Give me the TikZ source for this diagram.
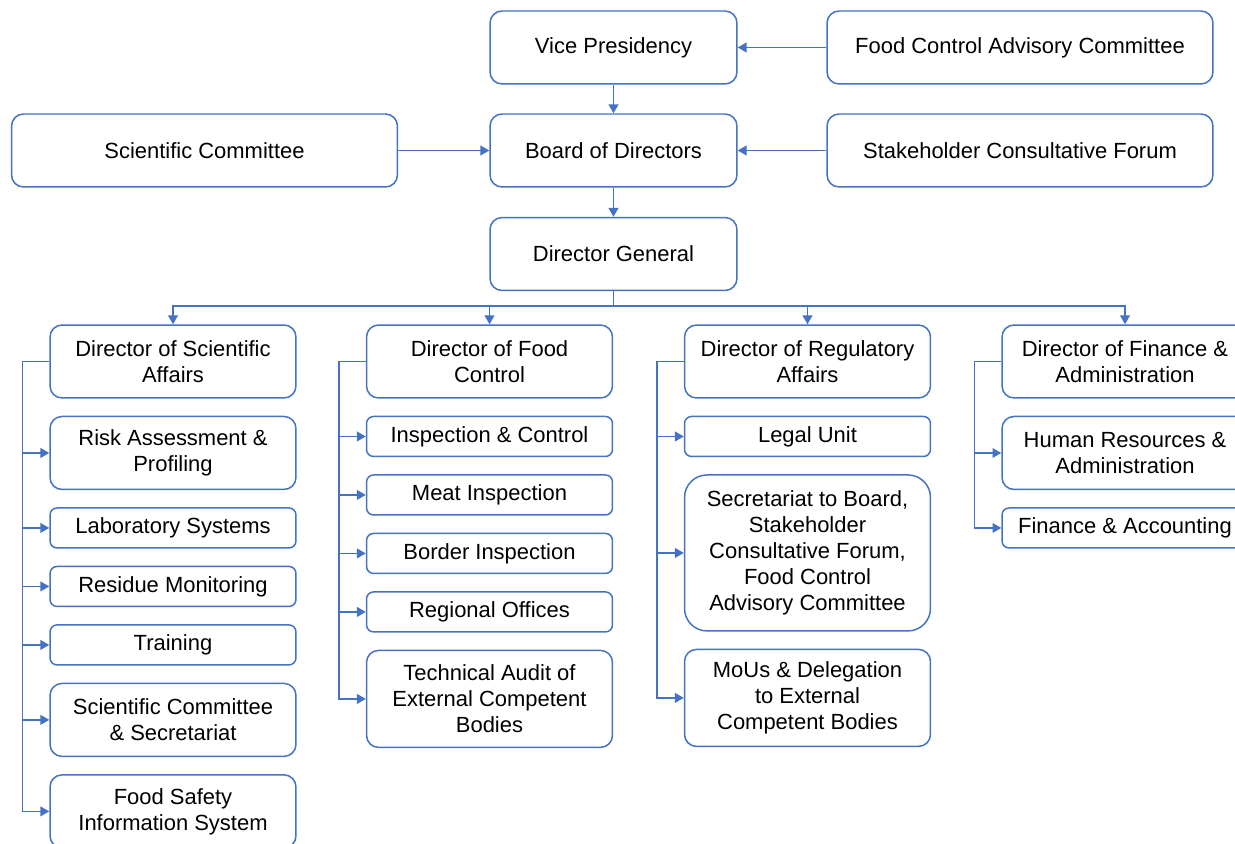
\documentclass[tikz,border=0pt]{standalone}
\usepackage{fontspec}
\setmainfont{Liberation Sans}
\usepackage{tikz}
\usetikzlibrary{arrows.meta,positioning}
\definecolor{orgblue}{HTML}{4472C4}
\tikzset{
  org/box/.style={draw=orgblue, line width=0.85pt, rounded corners=0.24cm, align=center, inner sep=2pt, font=\fontsize{12.5}{14.8}\selectfont},
  org/top/.style={org/box, minimum width=4.94cm, minimum height=1.46cm},
  org/wide/.style={org/box, minimum width=7.72cm, minimum height=1.46cm},
  org/head/.style={org/box, minimum width=4.92cm, minimum height=1.46cm},
  org/unit/.style={org/box, minimum width=4.92cm, minimum height=0.8cm, rounded corners=0.14cm},
  org/link/.style={draw=orgblue, line width=0.85pt, -{Triangle[length=5pt,width=5.5pt]}}
}

\begin{document}
\begin{tikzpicture}[x=0.02cm, y=-0.02cm, node distance=0.34cm]
  \clip (0,0) rectangle (1235,844);
  % top of the chart
  \node[org/top] (vp) at (613.5,47.5) {Vice Presidency};
  \node[org/wide] (fcac) at (1020,47.5) {Food Control Advisory Committee};
  \node[org/wide] (sc) at (204.5,150.5) {Scientific Committee};
  \node[org/top] (bod) at (613.5,150.5) {Board of Directors};
  \node[org/wide] (scf) at (1020,150.5) {Stakeholder Consultative Forum};
  \node[org/top] (dg) at (613.5,254) {Director General};
  \draw[org/link] (fcac) -- (vp);
  \draw[org/link] (scf) -- (bod);
  \draw[org/link] (sc) -- (bod);
  \draw[org/link] (vp) -- (bod);
  \draw[org/link] (bod) -- (dg);

  % directors
  \node[org/head] (dsa) at (173,361.5) {Director of Scientific\\Affairs};
  \node[org/head] (dfc) at (489.5,361.5) {Director of Food\\Control};
  \node[org/head] (dra) at (807.5,361.5) {Director of Regulatory\\Affairs};
  \node[org/head] (dfa) at (1125,361.5) {Director of Finance \&\\Administration};
  \foreach \d in {dsa,dfc,dra,dfa}
    \draw[org/link] (dg.south) -- ++(0,15) -| (\d.north);

  % scientific affairs
  \node[org/head, below=of dsa] (risk) {Risk Assessment \&\\Profiling};
  \node[org/unit, below=of risk] (lab) {Laboratory Systems};
  \node[org/unit, below=of lab] (res) {Residue Monitoring};
  \node[org/unit, below=of res] (train) {Training};
  \node[org/head, below=of train] (scsec) {Scientific Committee\\\& Secretariat};
  \node[org/head, below=of scsec] (fsis) {Food Safety\\Information System};
  \foreach \u in {risk,lab,res,train,scsec,fsis}
    \draw[org/link] (dsa.west) -- ++(-27,0) |- (\u.west);

  % food control
  \node[org/unit, below=of dfc] (insp) {Inspection \& Control};
  \node[org/unit, below=of insp] (meat) {Meat Inspection};
  \node[org/unit, below=of meat] (border) {Border Inspection};
  \node[org/unit, below=of border] (regio) {Regional Offices};
  \node[org/head, minimum height=1.94cm, below=of regio] (audit) {Technical Audit of\\External Competent\\Bodies};
  \foreach \u in {insp,meat,border,regio,audit}
    \draw[org/link] (dfc.west) -- ++(-27,0) |- (\u.west);

  % regulatory affairs
  \node[org/unit, below=of dra] (legal) {Legal Unit};
  \node[org/head, minimum height=3.12cm, rounded corners=0.45cm, below=of legal] (secr) {Secretariat to Board,\\Stakeholder\\Consultative Forum,\\Food Control\\Advisory Committee};
  \node[org/head, minimum height=1.94cm, below=of secr] (mous) {MoUs \& Delegation\\to External\\Competent Bodies};
  \foreach \u in {legal,secr,mous}
    \draw[org/link] (dra.west) -- ++(-27,0) |- (\u.west);

  % finance and administration
  \node[org/head, below=of dfa] (hr) {Human Resources \&\\Administration};
  \node[org/unit, below=of hr] (fin) {Finance \& Accounting};
  \foreach \u in {hr,fin}
    \draw[org/link] (dfa.west) -- ++(-27,0) |- (\u.west);
\end{tikzpicture}
\end{document}
